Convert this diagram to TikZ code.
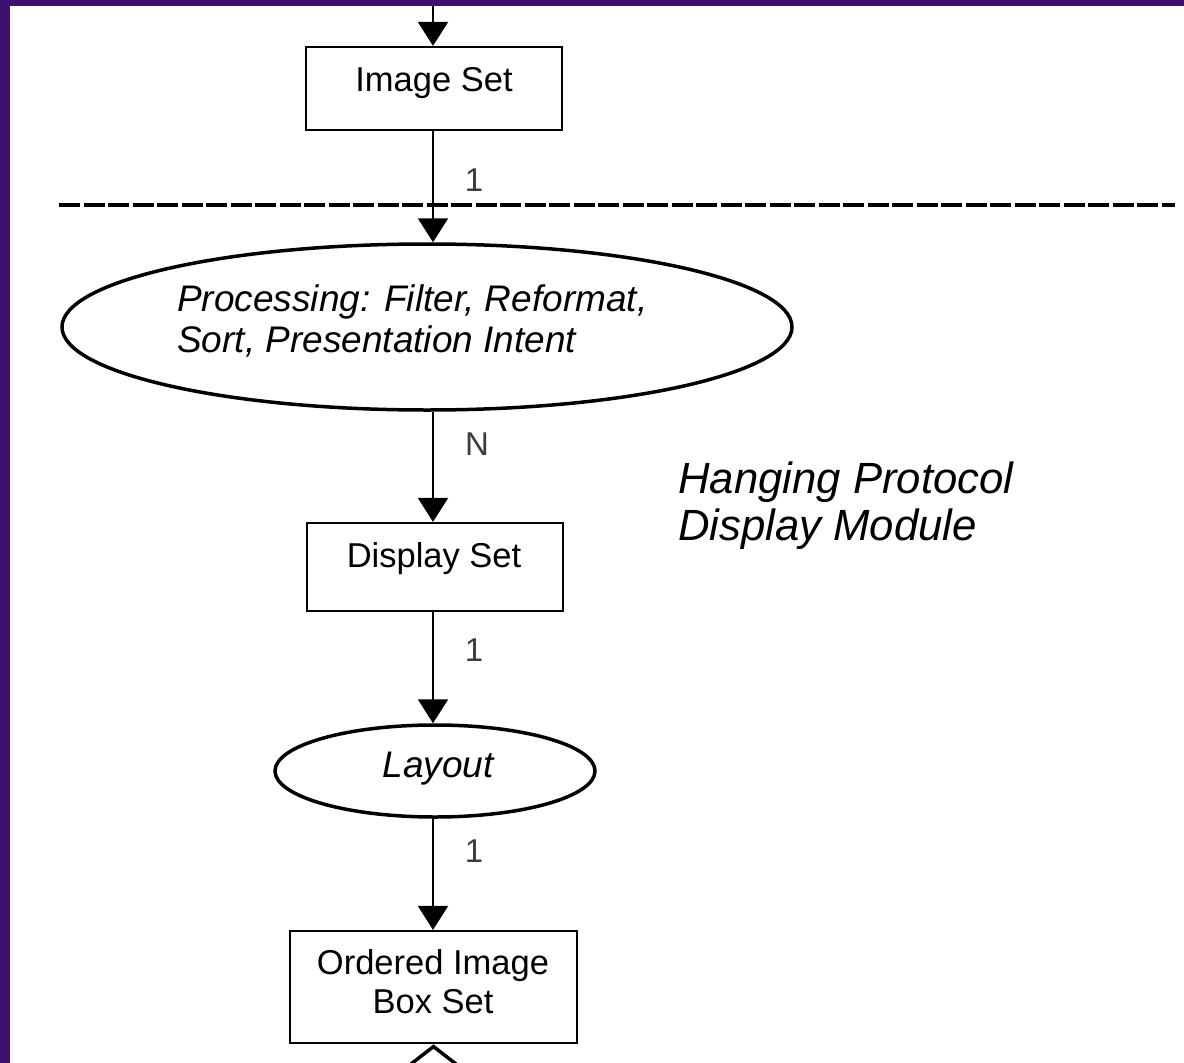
\documentclass[tikz,border=0pt]{standalone}
\usepackage{fontspec}
\setmainfont{Liberation Sans}
\usetikzlibrary{arrows.meta,shapes.geometric}
\definecolor{bgpurple}{RGB}{62,16,112}
\definecolor{lblgray}{RGB}{60,60,60}
\tikzset{
  conn/.style={line width=2pt, -{Triangle[width=30pt,length=24pt]}},
  boxnode/.style={draw, line width=2.2pt, rectangle, inner sep=0pt},
  ovalnode/.style={draw, line width=3.5pt, ellipse, inner sep=0pt},
  boxtext/.style={font=\fontsize{34.5}{39}\selectfont, align=center, inner sep=0pt},
  ovaltext/.style={font=\fontsize{37}{41}\selectfont\itshape, inner sep=0pt},
  mult/.style={font=\fontsize{33}{38}\selectfont, text=lblgray, inner sep=0pt},
  sidetext/.style={font=\fontsize{43.7}{48}\selectfont\itshape, align=left, inner sep=0pt},
  sep/.style={line width=4pt, dash pattern=on 21pt off 3.5pt}
}
\begin{document}
\begin{tikzpicture}[x=1pt,y=-1pt]
\useasboundingbox (0,0) rectangle (1184,1063);
\fill[bgpurple] (0,0) rectangle (1184,1063);
\fill[white] (10,6) rectangle (1184,1063);
\begin{scope}
\clip (10,6) rectangle (1184,1063);
% nodes
\coordinate (topin) at (433,6);
\node[boxnode, minimum width=256pt, minimum height=83pt] (imgset) at (434,88.5) {};
\node[boxtext, anchor=base] (imgsettxt) at (434,91) {Image Set};
\node[ovalnode, minimum width=730pt, minimum height=166pt] (proc) at (427,327) {};
\node[ovaltext, anchor=base west] (proctxt1) at (177,311) {Processing: Filter, Reformat,};
\node[ovaltext, anchor=base west] (proctxt2) at (177,352) {Sort, Presentation Intent};
\node[boxnode, minimum width=256pt, minimum height=88pt] (dispset) at (435,567) {};
\node[boxtext, anchor=base] (dispsettxt) at (434,567) {Display Set};
\node[ovalnode, minimum width=320pt, minimum height=92pt] (layout) at (435,771) {};
\node[ovaltext, anchor=base] (layouttxt) at (438,777) {Layout};
\node[boxnode, minimum width=287pt, minimum height=112pt] (oibs) at (433.5,987) {};
\node[boxtext, anchor=base] (oibstxt1) at (433,974) {Ordered Image};
\node[boxtext, anchor=base] (oibstxt2) at (433,1013) {Box Set};
\node[draw, line width=3.5pt, diamond, minimum width=90pt, minimum height=70pt, anchor=north, inner sep=0pt] (agg) at (oibs.south) {};
\node[sidetext, anchor=base west] (hp1) at (678,493) {Hanging Protocol};
\node[sidetext, anchor=base west] (hp2) at (678,540) {Display Module};
% separator
\draw[sep] (59,205) -- (1175,205);
% connectors
\draw[conn] (topin) -- (topin |- imgset.north);
\draw[conn] (imgset.south -| topin) -- node[mult, pos=0.44, xshift=41pt] (m1) {1} (topin |- proc.north);
\draw[conn] (proc.south -| topin) -- node[mult, pos=0.29, xshift=44pt] (m2) {N} (topin |- dispset.north);
\draw[conn] (dispset.south -| topin) -- node[mult, pos=0.34, xshift=41pt] (m3) {1} (topin |- layout.north);
\draw[conn] (layout.south -| topin) -- node[mult, pos=0.29, xshift=41pt] (m4) {1} (topin |- oibs.north);
\end{scope}
\end{tikzpicture}
\end{document}
